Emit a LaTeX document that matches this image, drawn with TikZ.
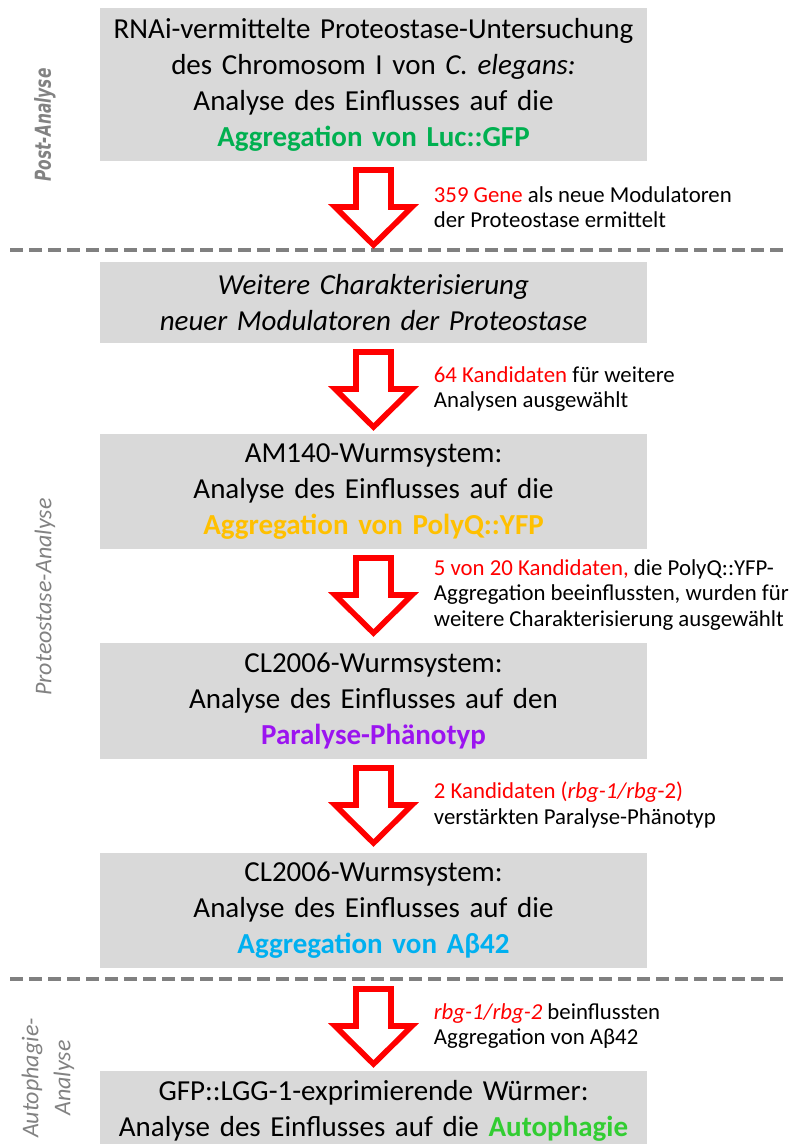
\documentclass[tikz,border=0pt]{standalone}
\usepackage{fontspec}
\setmainfont{Carlito}
\newfontfamily\phasefont{DejaVu Sans}
\usetikzlibrary{positioning}

\definecolor{boxgray}{RGB}{217,217,217}
\definecolor{phasegray}{RGB}{130,130,130}
\definecolor{cutgray}{RGB}{128,128,128}
\definecolor{lucgreen}{RGB}{0,176,80}
\definecolor{polyorange}{RGB}{255,192,0}
\definecolor{paraviolet}{RGB}{155,20,240}
\definecolor{abblue}{RGB}{0,176,240}
\definecolor{autogreen}{RGB}{50,205,50}

\begin{document}
\begin{tikzpicture}[
  x=0.5pt, y=-0.5pt,
  node distance=47pt,
  box/.style={rectangle, fill=boxgray, minimum width=273.5pt, text width=270pt, align=center, inner sep=0pt, outer sep=0pt, font=\fontsize{14.5}{18}\selectfont},
  note/.style={align=left, inner sep=0pt, font=\fontsize{11.4}{12.8}\selectfont},
  phase/.style={rotate=90, text=phasegray, align=center, font=\fontsize{12}{16}\selectfont\itshape},
  redarrow/.style={draw=red, line width=2.8pt, fill=white, miter limit=10},
  cutline/.style={draw=cutgray, line width=1.8pt, dash pattern=on 6.5pt off 3pt},
  downarrow/.pic={\draw[redarrow] (-17.5,-37) -- (17.5,-37) -- (17.5,0) -- (38.5,0) -- (0,38) -- (-38.5,0) -- (-17.5,0) -- cycle;}
]
\useasboundingbox (0,0) rectangle (788,1144);

% Boxes
\node (screen) [box, minimum height=76.5pt] at (373.5,84.5) {RNAi-vermittelte Proteostase-Untersuchung\\des Chromosom I von \textit{C. elegans:}\\Analyse des Einflusses auf die\\\textcolor{lucgreen}{\textbf{Aggregation von Luc::GFP}}};
\node (charact) [box, minimum height=40.5pt, below=50.5pt of screen] {\textit{Weitere Charakterisierung}\\\textit{neuer Modulatoren der Proteostase}};
\node (polyq) [box, minimum height=57.5pt, below=45.5pt of charact] {AM140-Wurmsystem:\\Analyse des Einflusses auf die\\\textcolor{polyorange}{\textbf{Aggregation von PolyQ::YFP}}};
\node (paral) [box, minimum height=58pt, below=of polyq] {CL2006-Wurmsystem:\\Analyse des Einflusses auf den\\\textcolor{paraviolet}{\textbf{Paralyse-Phänotyp}}};
\node (abeta) [box, minimum height=57.5pt, below=of paral] {CL2006-Wurmsystem:\\Analyse des Einflusses auf die\\\textcolor{abblue}{\textbf{Aggregation von Aβ42}}};
\node (autoph) [box, minimum height=40pt, below=51.5pt of abeta] {GFP::LGG-1-exprimierende Würmer:\\Analyse des Einflusses auf die \textcolor{autogreen}{\textbf{Autophagie}}};

% Separators
\draw[cutline] (10,250) -- (788,250);
\draw[cutline] (10,979) -- (788,979);

% Arrows
\coordinate[below=23pt of screen] (arr1);
\coordinate[below=23pt of charact] (arr2);
\coordinate[below=23pt of polyq] (arr3);
\coordinate[below=23pt of paral] (arr4);
\coordinate[below=29pt of abeta] (arr5);
\foreach \a in {arr1,arr2,arr3,arr4,arr5}
  \pic at (\a) {downarrow};

% Arrow notes
\node (note1) [note, right=30pt of arr1] {\textcolor{red}{359 Gene} als neue Modulatoren\\der Proteostase ermittelt};
\node (note2) [note, right=30pt of arr2] {\textcolor{red}{64 Kandidaten} für weitere\\Analysen ausgewählt};
\node (note3) [note, right=30pt of arr3] {\textcolor{red}{5 von 20 Kandidaten,} die PolyQ::YFP-\\Aggregation beeinflussten, wurden für\\weitere Charakterisierung ausgewählt};
\node (note4) [note, right=30pt of arr4] {\textcolor{red}{2 Kandidaten (\textit{rbg-1/rbg}-2)}\\verstärkten Paralyse-Phänotyp};
\node (note5) [note, right=30pt of arr5] {\textcolor{red}{\textit{rbg-1/rbg-2}} beinflussten\\Aggregation von Aβ42};

% Phases
\node (post) [phase, font=\phasefont\bfseries\itshape\fontsize{11}{13}\selectfont] at (45,125) {\scalebox{0.7}[1]{Post-Analyse}};
\node (proteo) [phase] at (45,597) {Proteostase-Analyse};
\node (autophase) [phase] at (48,1078) {Autophagie-\\Analyse};

\end{tikzpicture}
\end{document}
